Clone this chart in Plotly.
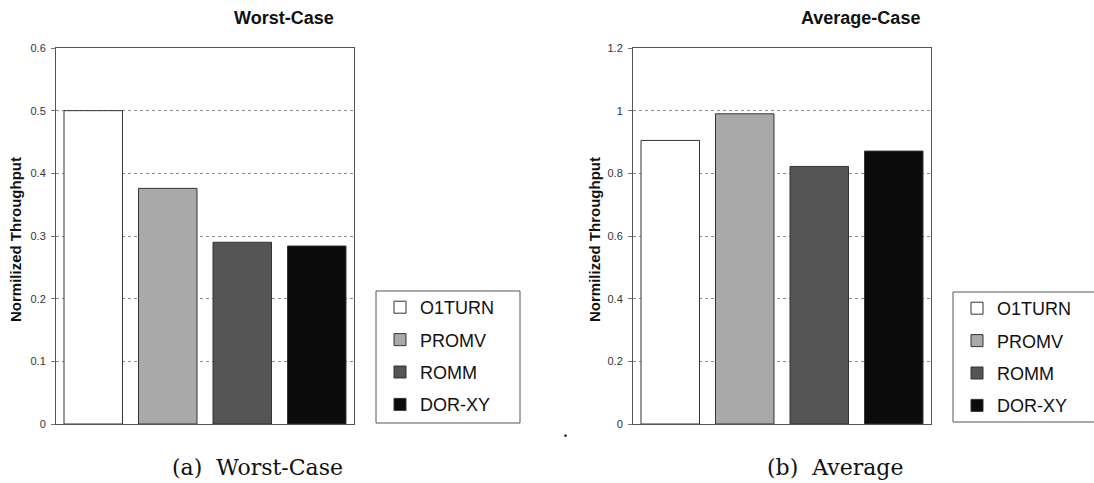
import plotly.graph_objects as go

# Normalized throughput per routing algorithm
algorithms = ["O1TURN", "PROMV", "ROMM", "DOR-XY"]
worst_case = [0.5, 0.376, 0.290, 0.284]
average_case = [0.905, 0.990, 0.822, 0.871]
bar_colors = ["#ffffff", "#a9a9a9", "#555555", "#0b0b0b"]

worst_ticks = [0, 0.1, 0.2, 0.3, 0.4, 0.5, 0.6]
worst_labels = ["0", "0.1", "0.2", "0.3", "0.4", "0.5", "0.6"]
avg_ticks = [0, 0.2, 0.4, 0.6, 0.8, 1.0, 1.2]
avg_labels = ["0", "0.2", "0.4", "0.6", "0.8", "1", "1.2"]

W, H = 1094, 483
FONT = "Arial, Liberation Sans, sans-serif"
SERIF = "DejaVu Serif, Liberation Serif, serif"


def px_x(x):
    return x / W


def px_y(y):
    return 1 - y / H


fig = go.Figure()

for name, val, col in zip(algorithms, worst_case, bar_colors):
    fig.add_trace(go.Bar(
        x=["Worst"], y=[val], name=name, legendgroup=name,
        marker=dict(color=col, line=dict(color="#333333", width=1)),
        xaxis="x", yaxis="y", legend="legend",
    ))

for name, val, col in zip(algorithms, average_case, bar_colors):
    fig.add_trace(go.Bar(
        x=["Average"], y=[val], name=name, legendgroup=name + "_b",
        marker=dict(color=col, line=dict(color="#333333", width=1)),
        xaxis="x2", yaxis="y2", legend="legend2",
    ))

y_dom = [px_y(424), px_y(48)]

common_x = dict(showticklabels=False, showgrid=False, showline=True, mirror=True,
                linecolor="#555555", linewidth=1, ticks="", zeroline=False,
                fixedrange=True, automargin=False)
common_y = dict(showgrid=True, gridcolor="#8c8c8c", griddash="dot", gridwidth=1,
                showline=True, mirror=True, linecolor="#555555", linewidth=1,
                ticks="outside", ticklen=4, tickcolor="#777777", zeroline=False,
                tickfont=dict(family=FONT, size=11, color="#333333"),
                ticklabelstandoff=3, automargin=False)

legend_common = dict(
    font=dict(family=FONT, size=18, color="#111111"),
    bgcolor="rgba(0,0,0,0)", borderwidth=0,
    traceorder="grouped", tracegroupgap=6,
    itemclick=False, itemdoubleclick=False,
    xanchor="left", yanchor="top",
)

fig.update_layout(
    width=W, height=H,
    margin=dict(l=0, r=0, t=0, b=0, autoexpand=False),
    paper_bgcolor="white", plot_bgcolor="white",
    barmode="group", bargap=0.0, bargroupgap=0.215,
    showlegend=True,
    xaxis=dict(domain=[px_x(56), px_x(354)], anchor="y", **common_x),
    yaxis=dict(domain=y_dom, anchor="x", range=[0, 0.6], tickvals=worst_ticks,
               ticktext=worst_labels, **common_y),
    xaxis2=dict(domain=[px_x(633), px_x(931)], anchor="y2", **common_x),
    yaxis2=dict(domain=y_dom, anchor="x2", range=[0, 1.2], tickvals=avg_ticks,
                ticktext=avg_labels, **common_y),
    legend=dict(x=px_x(380), y=px_y(289), **legend_common),
    legend2=dict(x=px_x(957), y=px_y(290), **legend_common),
)

# Legend frames
fig.add_shape(type="rect", xref="paper", yref="paper",
              x0=px_x(376), x1=px_x(520), y0=px_y(423), y1=px_y(291),
              line=dict(color="#555555", width=1), fillcolor="rgba(0,0,0,0)")
fig.add_shape(type="rect", xref="paper", yref="paper",
              x0=px_x(953), x1=px_x(1098), y0=px_y(422), y1=px_y(292),
              line=dict(color="#555555", width=1), fillcolor="rgba(0,0,0,0)")

annots = [
    dict(text="<b>Worst-Case</b>", x=px_x(284), y=px_y(18), size=18, family=FONT, angle=0),
    dict(text="<b>Average-Case</b>", x=px_x(860), y=px_y(18), size=18, family=FONT, angle=0),
    dict(text="<b>Normilized Throughput</b>", x=px_x(15), y=px_y(240), size=15, family=FONT, angle=-90),
    dict(text="<b>Normilized Throughput</b>", x=px_x(594), y=px_y(240), size=15, family=FONT, angle=-90),
    dict(text="(a)\u00a0 Worst-Case", x=px_x(257), y=px_y(467), size=22, family=SERIF, angle=0),
    dict(text="(b)\u00a0 Average", x=px_x(835), y=px_y(467), size=22, family=SERIF, angle=0),
    dict(text="<b>.</b>", x=px_x(565), y=px_y(432), size=14, family=SERIF, angle=0),
]
for a in annots:
    fig.add_annotation(text=a["text"], x=a["x"], y=a["y"], xref="paper", yref="paper",
                       showarrow=False, textangle=a["angle"],
                       font=dict(family=a["family"], size=a["size"], color="#111111"),
                       xanchor="center", yanchor="middle")

fig.write_html("out.html")
